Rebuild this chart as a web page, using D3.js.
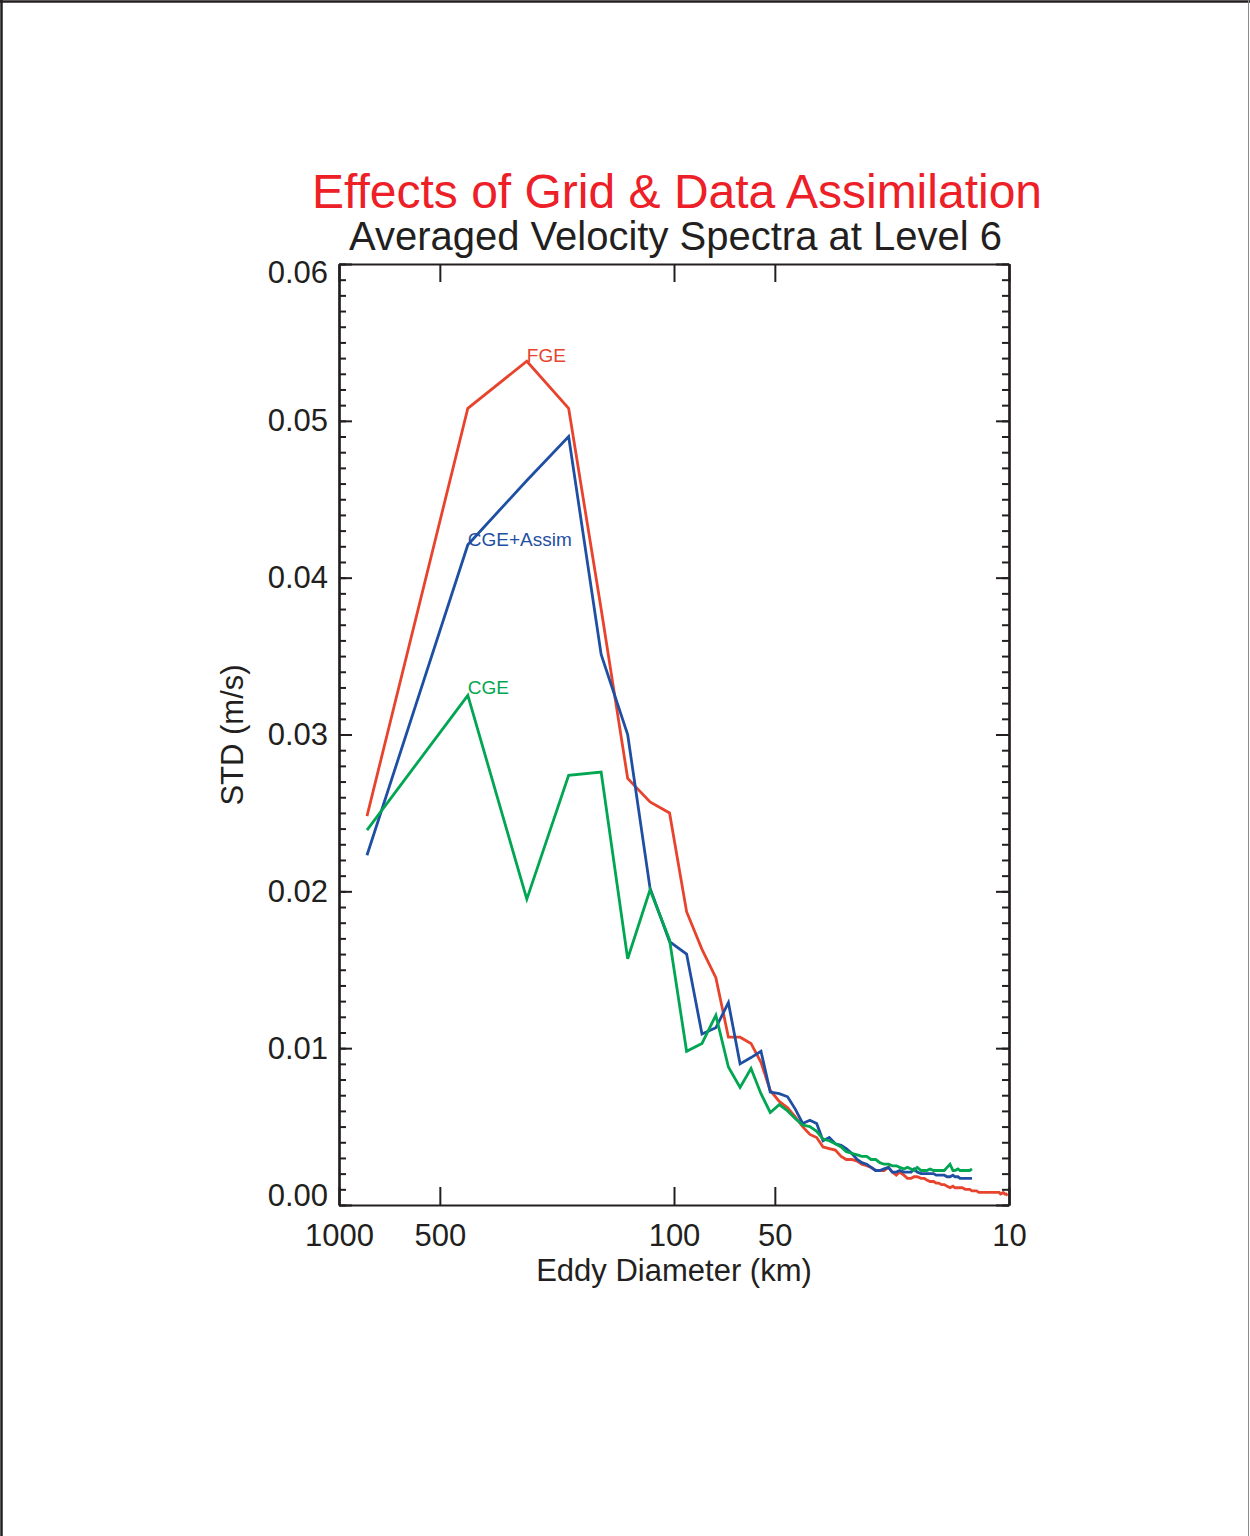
<!DOCTYPE html>
<html>
<head>
<meta charset="utf-8">
<script src="https://cdn.jsdelivr.net/npm/d3@7"></script>
<style>
  body { margin: 0; background: #fff; }
  svg { display: block; }
  text { font-family: "Liberation Sans", Arial, Helvetica, sans-serif; }
</style>
</head>
<body>
<svg width="1250" height="1536"></svg>
<script>
// eddy diameters (km) of the spectral bins, largest to smallest
var diameters = [825, 412.5, 275, 206.3, 165, 137.5, 117.9, 103.1, 91.7, 82.5,
	75, 68.8, 63.5, 58.9, 55, 51.6, 48.5, 45.8, 43.4, 41.3,
	39.3, 37.5, 35.9, 34.4, 33, 31.7, 30.6, 29.5, 28.4, 27.5,
	26.6, 25.8, 25, 24.3, 23.6, 22.9, 22.3, 21.7, 21.2, 20.6,
	20.1, 19.6, 19.2, 18.8, 18.3, 17.9, 17.6, 17.2, 16.8, 16.5,
	16.2, 15.9, 15.6, 15.3, 15, 14.7, 14.5, 14.2, 14, 13.8,
	13.5, 13.3, 13.1, 12.9, 12.7, 12.5, 12.3, 12.1, 12, 11.8,
	11.6, 11.5, 11.3, 11.1, 11, 10.9, 10.7, 10.6, 10.4, 10.3,
	10.2, 10.1];

var fge = [0.0248, 0.0508, 0.0538, 0.0508, 0.0380, 0.0272, 0.0257, 0.0250, 0.0187, 0.0163,
	0.0145, 0.0107, 0.0107, 0.0103, 0.0091, 0.0073, 0.0066, 0.0062, 0.0056, 0.0050,
	0.0045, 0.0043, 0.0037, 0.0036, 0.0035, 0.0031, 0.0029, 0.0029, 0.0028, 0.0026,
	0.0025, 0.0024, 0.0022, 0.0022, 0.0022, 0.0024, 0.0021, 0.0019, 0.0021, 0.0019,
	0.0017, 0.0017, 0.0018, 0.0018, 0.0017, 0.0017, 0.0016, 0.0015, 0.0015, 0.0014,
	0.0014, 0.0013, 0.0013, 0.0012, 0.0011, 0.0012, 0.0011, 0.0011, 0.0011, 0.0011,
	0.0010, 0.0010, 0.0010, 0.0009, 0.0009, 0.0009, 0.0008, 0.0008, 0.0008, 0.0008,
	0.0008, 0.0008, 0.0008, 0.0008, 0.0008, 0.0008, 0.0008, 0.0007, 0.0008, 0.0007,
	0.0007, 0.0006];

var cgeAssim = [0.0223, 0.0421, 0.0462, 0.0490, 0.0351, 0.0300, 0.0202, 0.0168, 0.0160, 0.0109,
	0.0113, 0.0129, 0.0090, 0.0094, 0.0098, 0.0072, 0.0071, 0.0069, 0.0061, 0.0052,
	0.0054, 0.0052, 0.0041, 0.0043, 0.0039, 0.0038, 0.0036, 0.0033, 0.0029, 0.0027,
	0.0026, 0.0024, 0.0022, 0.0022, 0.0023, 0.0024, 0.0021, 0.0021, 0.0022, 0.0021,
	0.0021, 0.0021, 0.0023, 0.0021, 0.0020, 0.0020, 0.0020, 0.0020, 0.0020, 0.0019,
	0.0019, 0.0019, 0.0019, 0.0018, 0.0018, 0.0019, 0.0018, 0.0018, 0.0017, 0.0017,
	0.0017, 0.0017, 0.0017, 0.0017];

var cge = [0.0239, 0.0325, 0.0195, 0.0274, 0.0276, 0.0157, 0.0201, 0.0169, 0.0098, 0.0103,
	0.0121, 0.0088, 0.0075, 0.0087, 0.0071, 0.0059, 0.0064, 0.0060, 0.0055, 0.0051,
	0.0050, 0.0047, 0.0042, 0.0041, 0.0039, 0.0037, 0.0034, 0.0033, 0.0032, 0.0031,
	0.0031, 0.0029, 0.0029, 0.0027, 0.0026, 0.0026, 0.0025, 0.0025, 0.0024, 0.0023,
	0.0024, 0.0023, 0.0022, 0.0024, 0.0022, 0.0022, 0.0022, 0.0023, 0.0022, 0.0022,
	0.0022, 0.0022, 0.0022, 0.0024, 0.0026, 0.0022, 0.0022, 0.0023, 0.0022, 0.0022,
	0.0022, 0.0022, 0.0022, 0.0023];

var xTicks = [1000, 500, 100, 50, 10];
var yTicks = [0, 0.01, 0.02, 0.03, 0.04, 0.05, 0.06];

(function () {

	var series = [
		{name: 'FGE', values: fge, color: '#e8432d', labelAt: 2, dy: 1},
		{name: 'CGE+Assim', values: cgeAssim, color: '#1f4fa3', labelAt: 1, dy: 1},
		{name: 'CGE', values: cge, color: '#00a651', labelAt: 1, dy: -1}
	];

	var pLeft = 339, pRight = 1009, pTop = 264, pBottom = 1205;

	var x = d3.scaleLog().domain([1000, 10]).range([pLeft, pRight]);
	var y = d3.scaleLinear().domain([0, 0.06]).range([pBottom, pTop]);

	var svg = d3.select('svg');

	// page frame
	svg.append('line').attr('x1', 0).attr('x2', 1250).attr('y1', 1.5).attr('y2', 1.5)
		.attr('stroke', '#231f20').attr('stroke-width', 2.5);
	svg.append('line').attr('x1', 1.5).attr('x2', 1.5).attr('y1', 0).attr('y2', 1536)
		.attr('stroke', '#231f20').attr('stroke-width', 2.5);
	svg.append('line').attr('x1', 1248.5).attr('x2', 1248.5).attr('y1', 0).attr('y2', 1536)
		.attr('stroke', '#8a8a8a').attr('stroke-width', 1);

	// titles
	svg.append('text').attr('x', 677).attr('y', 208).attr('text-anchor', 'middle')
		.attr('font-size', 48).attr('fill', '#ed2027')
		.text('Effects of Grid & Data Assimilation');
	svg.append('text').attr('x', 675.5).attr('y', 250).attr('text-anchor', 'middle')
		.attr('font-size', 40).attr('fill', '#231f20')
		.text('Averaged Velocity Spectra at Level 6');

	// data lines
	var line = d3.line()
		.x(function (d) { return x(d[0]); })
		.y(function (d) { return y(d[1]); });

	var plot = svg.append('g');
	series.forEach(function (s) {
		var pts = s.values.map(function (v, i) { return [diameters[i], v]; });
		plot.append('path')
			.datum(pts)
			.attr('fill', 'none')
			.attr('stroke', s.color)
			.attr('stroke-width', 2.8)
			.attr('d', line);
		plot.append('text')
			.attr('x', x(diameters[s.labelAt]))
			.attr('y', y(s.values[s.labelAt]) + s.dy)
			.attr('font-size', 19)
			.attr('fill', s.color)
			.text(s.name);
	});

	// axes
	function styleAxis(g) {
		g.selectAll('path.domain').attr('stroke', '#231f20').attr('stroke-width', 2.2);
		g.selectAll('.tick line').attr('stroke', '#231f20').attr('stroke-width', 2);
		g.selectAll('.tick text').attr('fill', '#231f20')
			.attr('font-family', '"Liberation Sans", Arial, sans-serif').attr('font-size', 31);
	}

	svg.append('g').attr('transform', 'translate(0,' + pBottom + ')')
		.call(d3.axisBottom(x).tickValues(xTicks).tickFormat(function (d) { return String(d); })
			.tickSizeInner(-18).tickSizeOuter(0).tickPadding(19))
		.call(styleAxis);
	svg.append('g').attr('transform', 'translate(0,' + pTop + ')')
		.call(d3.axisTop(x).tickValues(xTicks).tickFormat('').tickSizeInner(-18).tickSizeOuter(0))
		.call(styleAxis);

	// minor y ticks every 0.001
	var minor = y.ticks(60);
	svg.append('g').attr('transform', 'translate(' + pLeft + ',0)')
		.call(d3.axisLeft(y).tickValues(minor).tickFormat('').tickSizeInner(-7).tickSizeOuter(0))
		.call(styleAxis);
	svg.append('g').attr('transform', 'translate(' + pRight + ',0)')
		.call(d3.axisRight(y).tickValues(minor).tickFormat('').tickSizeInner(-7).tickSizeOuter(0))
		.call(styleAxis);

	var yAxisL = svg.append('g').attr('transform', 'translate(' + pLeft + ',0)')
		.call(d3.axisLeft(y).tickValues(yTicks).tickFormat(d3.format('.2f'))
			.tickSizeInner(-13).tickSizeOuter(0).tickPadding(11))
		.call(styleAxis);
	// the end labels sit a little inside the frame
	yAxisL.selectAll('.tick text').attr('dy', function (d) {
		if (d === 0.06) return '0.6em';
		if (d === 0) return '0.02em';
		return '0.32em';
	});
	svg.append('g').attr('transform', 'translate(' + pRight + ',0)')
		.call(d3.axisRight(y).tickValues(yTicks).tickFormat('').tickSizeInner(-13).tickSizeOuter(0))
		.call(styleAxis);

	// axis titles
	svg.append('text').attr('x', 674).attr('y', 1281).attr('text-anchor', 'middle')
		.attr('font-size', 31).attr('fill', '#231f20')
		.text('Eddy Diameter (km)');
	svg.append('text').attr('transform', 'translate(243,735) rotate(-90)')
		.attr('text-anchor', 'middle').attr('font-size', 31).attr('fill', '#231f20')
		.text('STD (m/s)');

})();
</script>
</body>
</html>
